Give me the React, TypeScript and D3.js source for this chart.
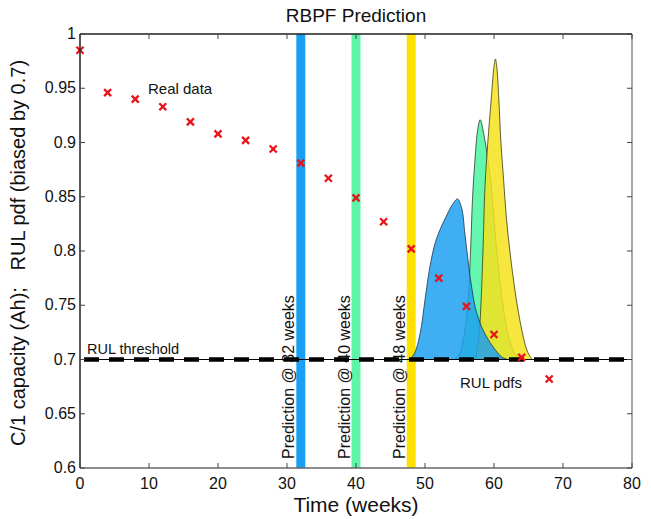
import React from "react";
import * as d3 from "d3";

const weeks = [0, 4, 8, 12, 16, 20, 24, 28, 32, 36, 40, 44, 48, 52, 56, 60, 64, 68];
const capacity = [0.985, 0.946, 0.94, 0.933, 0.919, 0.908, 0.902, 0.894, 0.881, 0.867, 0.849, 0.827, 0.802, 0.775, 0.749, 0.723, 0.702, 0.682];

const predictionWeeks = [32, 40, 48];
const predictionColors = ["#1a9ff2", "#5ef5a8", "#ffe100"];

// RUL pdf outlines (week, value biased by 0.7)
const pdf32X = [47.8, 48.5, 49.3, 50.0, 50.7, 51.5, 52.2, 53.0, 54.0, 54.7, 55.3, 55.8, 56.3, 56.8, 57.4, 58.2, 59.2, 60.3, 61.2, 62.0];
const pdf32Y = [0.70, 0.706, 0.724, 0.755, 0.785, 0.808, 0.82, 0.831, 0.843, 0.848, 0.84, 0.815, 0.788, 0.765, 0.745, 0.73, 0.718, 0.708, 0.702, 0.70];
const pdf40X = [54.3, 55.0, 55.6, 56.2, 56.6, 56.9, 57.2, 57.6, 58.0, 58.6, 59.1, 59.6, 60.0, 60.4, 60.8, 61.3, 61.8, 62.5, 63.3, 64.0];
const pdf40Y = [0.70, 0.705, 0.72, 0.75, 0.80, 0.85, 0.88, 0.91, 0.921, 0.905, 0.885, 0.86, 0.83, 0.80, 0.775, 0.75, 0.73, 0.713, 0.703, 0.70];
const pdf48X = [57.3, 57.8, 58.1, 58.4, 58.7, 59.1, 59.6, 60.0, 60.2, 60.4, 60.7, 61.0, 61.4, 61.8, 62.3, 62.9, 63.5, 64.1, 64.8, 65.5];
const pdf48Y = [0.70, 0.72, 0.75, 0.80, 0.86, 0.90, 0.94, 0.97, 0.977, 0.97, 0.94, 0.90, 0.865, 0.83, 0.80, 0.77, 0.745, 0.725, 0.708, 0.70];

const xTicks = [0, 10, 20, 30, 40, 50, 60, 70, 80];
const yTicks = [0.6, 0.65, 0.7, 0.75, 0.8, 0.85, 0.9, 0.95, 1];
const threshold = 0.7;

const W = 651, H = 519;
const L = 80, R = 632, T = 34, B = 468;
const FONT = "'Liberation Sans', Arial, Helvetica, sans-serif";

export default function App() {
  const x = d3.scaleLinear().domain([0, 80]).range([L, R]);
  const y = d3.scaleLinear().domain([0.6, 1]).range([B, T]);

  const area = (xs: number[], ys: number[]) => {
    const pts: [number, number][] = xs.map((v, i) => [x(v), y(ys[i])]);
    return d3.line().curve(d3.curveCatmullRom.alpha(0.5))(pts) + "Z";
  };

  const barW = x(1.3) - x(0);

  return (
    <svg width={W} height={H} style={{ position: "absolute", left: 0, top: 0, background: "#fff" }} fontFamily={FONT}>
      <rect x={0} y={0} width={W} height={H} fill="#fff" />
      {/* prediction bars */}
      {predictionWeeks.map((w, i) => (
        <rect key={w} x={x(w) - barW / 2} y={T} width={barW} height={B - T} fill={predictionColors[i]} />
      ))}
      {/* pdfs */}
      <path d={area(pdf40X, pdf40Y)} fill="#66f7ae" stroke="#2a3a30" strokeWidth={0.8} />
      <path d={area(pdf48X, pdf48Y)} fill="#f4e21c" fillOpacity={0.85} stroke="#3a3a10" strokeWidth={0.8} />
      <path d={area(pdf32X, pdf32Y)} fill="#1ea0f0" fillOpacity={0.85} stroke="#1a3550" strokeWidth={0.8} />
      {/* prediction labels */}
      {predictionWeeks.map((w) => (
        <text key={w} transform={`translate(${x(w) - 6.5},${B - 9}) rotate(-90)`} fontSize={16} fill="#111">
          {`Prediction @ ${w} weeks`}
        </text>
      ))}
      {/* threshold */}
      <line x1={L} x2={R} y1={y(threshold)} y2={y(threshold)} stroke="#000" strokeWidth={1} />
      <line x1={L + 4} x2={R} y1={y(threshold)} y2={y(threshold)} stroke="#000" strokeWidth={4.5} strokeDasharray="15 10" />
      {/* real data markers */}
      {weeks.map((w, i) => {
        const cx = x(w), cy = y(capacity[i]), s = 3.5;
        return (
          <g key={w} stroke="#e8141c" strokeWidth={2.3}>
            <line x1={cx - s} y1={cy - s} x2={cx + s} y2={cy + s} />
            <line x1={cx - s} y1={cy + s} x2={cx + s} y2={cy - s} />
          </g>
        );
      })}
      {/* annotations */}
      <text x={148} y={94} fontSize={15} fill="#111">Real data</text>
      <text x={87} y={354} fontSize={14.5} fill="#111">RUL threshold</text>
      <text x={460} y={388} fontSize={15} fill="#111">RUL pdfs</text>
      {/* axes box */}
      <line x1={L} x2={R} y1={T} y2={T} stroke="#222" strokeWidth={1.5} />
      <line x1={L} x2={L} y1={T} y2={B} stroke="#222" strokeWidth={1.5} />
      <line x1={L} x2={R} y1={B} y2={B} stroke="#666" strokeWidth={1.5} />
      <line x1={R} x2={R} y1={T} y2={B} stroke="#888" strokeWidth={1.5} />
      {xTicks.map((t) => (
        <g key={"x" + t}>
          <line x1={x(t)} x2={x(t)} y1={B} y2={B - 5} stroke="#444" />
          <line x1={x(t)} x2={x(t)} y1={T} y2={T + 5} stroke="#444" />
          <text x={x(t)} y={B + 21} fontSize={16} textAnchor="middle" fill="#111">{t}</text>
        </g>
      ))}
      {yTicks.map((t) => (
        <g key={"y" + t}>
          <line x1={L} x2={L + 5} y1={y(t)} y2={y(t)} stroke="#444" />
          <line x1={R} x2={R - 5} y1={y(t)} y2={y(t)} stroke="#444" />
          <text x={L - 4} y={y(t) + 5} fontSize={16} textAnchor="end" fill="#111">{d3.format("")(+t.toFixed(2))}</text>
        </g>
      ))}
      {/* titles */}
      <text x={(L + R) / 2} y={22} fontSize={19} textAnchor="middle" fill="#111">RBPF Prediction</text>
      <text x={(L + R) / 2} y={512} fontSize={21} textAnchor="middle" fill="#111">Time (weeks)</text>
      <text transform={`translate(25,${(T + B) / 2 + 2}) rotate(-90)`} fontSize={20} textAnchor="middle" fill="#111" xmlSpace="preserve">
        {"C/1 capacity (Ah);   RUL pdf (biased by 0.7)"}
      </text>
    </svg>
  );
}
